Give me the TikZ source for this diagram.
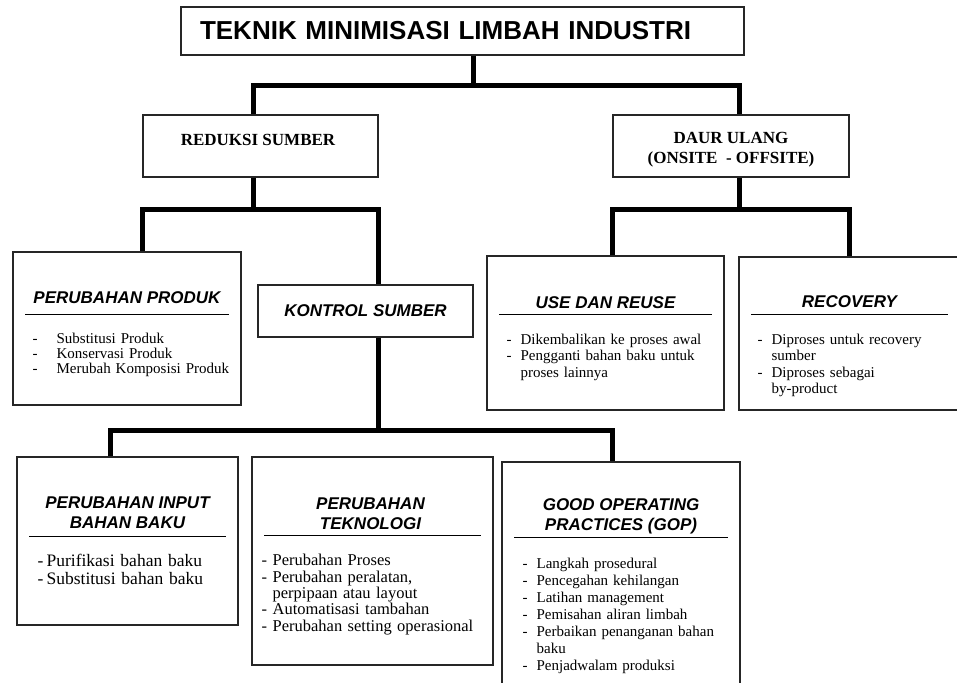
\documentclass[tikz,border=0pt]{standalone}
\usepackage{fontspec}
\setmainfont{Liberation Serif}
\setsansfont{Liberation Sans}
\usepackage{tikz}

% list with a plain dash in front of each entry
\newenvironment{dashlist}[1][14pt]{%
  \begin{list}{-}{\setlength{\leftmargin}{#1}\setlength{\labelwidth}{#1}%
    \setlength{\labelsep}{0pt}\setlength{\itemsep}{0pt}\setlength{\parsep}{0pt}%
    \setlength{\topsep}{0pt}\setlength{\partopsep}{0pt}\setlength{\itemindent}{0pt}%
    \renewcommand{\makelabel}[1]{##1\hfil}}}%
  {\end{list}}

\begin{document}
\begin{tikzpicture}[x=1pt, y=-1pt,
  box/.style={draw=black!85, line width=1.2pt, inner sep=0pt},
  conn/.style={line width=5pt, line join=miter},
  rule/.style={line width=1.6pt},
  head/.style={font=\sffamily\bfseries\itshape\fontsize{17}{20}\selectfont, align=center, inner sep=0pt},
  shead/.style={font=\bfseries\fontsize{17}{20}\selectfont, align=center, inner sep=0pt},
  items/.style={font=\fontsize{15}{16.5}\selectfont, text width=220pt, align=left, inner sep=0pt, anchor=north west},
]
  \useasboundingbox (0,0) rectangle (957,682);
  \clip (0,0) rectangle (957,682);
  \fill[white] (0,0) rectangle (957,682);

  % Top
  \node[box, minimum width=563pt, minimum height=48pt, text width=525pt, inner xsep=19pt, align=left,
        font=\sffamily\bfseries\fontsize{26}{30}\selectfont] (title) at (462.5,31) {TEKNIK MINIMISASI LIMBAH INDUSTRI};

  % Level 1
  \node[box, minimum width=235pt, minimum height=62pt] (reduksi) at (260.5,146) {};
  \node[shead] (reduksi-t) at ([xshift=-2.5,yshift=6]reduksi) {REDUKSI SUMBER};
  \node[box, minimum width=236pt, minimum height=62pt] (daur) at (731,146) {};
  \node[shead] (daur-t) at ([yshift=-4]daur) {DAUR ULANG\\(ONSITE\ \ - OFFSITE)};

  % Level 2
  \node[box, minimum width=228pt, minimum height=153pt] (produk) at (127,328.5) {};
  \node[head] (produk-t) at ([yshift=-46]produk.north) {PERUBAHAN PRODUK};
  \draw[rule] ([xshift=13,yshift=-63]produk.north west) -- ([xshift=-13,yshift=-63]produk.north east);
  \node[items, font=\fontsize{15}{15}\selectfont] (produk-l) at ([xshift=20,yshift=-77]produk.north west)
    {\begin{dashlist}[24pt]\item Substitusi Produk \item Konservasi Produk \item Merubah Komposisi Produk\end{dashlist}};

  \node[box, head, minimum width=215pt, minimum height=52pt] (kontrol) at (365.5,311) {KONTROL SUMBER};

  \node[box, minimum width=237pt, minimum height=154pt] (use) at (605.5,333) {};
  \node[head] (use-t) at ([yshift=-47]use.north) {USE DAN REUSE};
  \draw[rule] ([xshift=13,yshift=-59]use.north west) -- ([xshift=-13,yshift=-59]use.north east);
  \node[items] (use-l) at ([xshift=20,yshift=-72]use.north west)
    {\begin{dashlist}\item Dikembalikan ke proses awal \item Pengganti bahan baku untuk\newline proses lainnya\end{dashlist}};

  \node[box, minimum width=221pt, minimum height=153pt] (recovery) at (849.5,333.5) {};
  \node[head] (recovery-t) at ([yshift=-45]recovery.north) {RECOVERY};
  \draw[rule] ([xshift=13,yshift=-58]recovery.north west) -- ([xshift=-13,yshift=-58]recovery.north east);
  \node[items] (recovery-l) at ([xshift=19,yshift=-71]recovery.north west)
    {\begin{dashlist}\item Diproses untuk recovery\newline sumber \item Diproses sebagai\newline by-product\end{dashlist}};

  % Level 3
  \node[box, minimum width=221pt, minimum height=168pt] (input) at (127.5,541) {};
  \node[head] (input-t) at ([yshift=-56]input.north) {PERUBAHAN INPUT\\BAHAN BAKU};
  \draw[rule] ([xshift=13,yshift=-80]input.north west) -- ([xshift=-13,yshift=-80]input.north east);
  \node[items, font=\fontsize{17.5}{18}\selectfont] (input-l) at ([xshift=21,yshift=-92]input.north west)
    {\begin{dashlist}[9pt]\item Purifikasi bahan baku \item Substitusi bahan baku\end{dashlist}};

  \node[box, minimum width=241pt, minimum height=208pt] (teknologi) at (372.5,561) {};
  \node[head] (teknologi-t) at ([xshift=-2,yshift=-57]teknologi.north) {PERUBAHAN\\TEKNOLOGI};
  \draw[rule] ([xshift=13,yshift=-79]teknologi.north west) -- ([xshift=-13,yshift=-79]teknologi.north east);
  \node[items, font=\fontsize{16.5}{16.3}\selectfont] (teknologi-l) at ([xshift=10,yshift=-93]teknologi.north west)
    {\begin{dashlist}[11pt]\item Perubahan Proses \item Perubahan peralatan,\newline perpipaan atau layout
      \item Automatisasi tambahan \item Perubahan setting operasional\end{dashlist}};

  \node[box, minimum width=238pt, minimum height=238pt] (gop) at (621,581) {};
  \node[head] (gop-t) at ([yshift=-55]gop.north) {GOOD OPERATING\\PRACTICES (GOP)};
  \draw[rule] ([xshift=13,yshift=-76]gop.north west) -- ([xshift=-13,yshift=-76]gop.north east);
  \node[items, font=\fontsize{15}{17}\selectfont] (gop-l) at ([xshift=21,yshift=-90]gop.north west)
    {\begin{dashlist}\item Langkah prosedural \item Pencegahan kehilangan \item Latihan management
      \item Pemisahan aliran limbah \item Perbaikan penanganan bahan\newline baku \item Penjadwalam produksi\end{dashlist}};

  % Connectors
  \draw[conn] ([xshift=10.5]title.south) -- ++(0,30) coordinate (j1);
  \draw[conn] ([xshift=-7.5]reduksi.north) |- (j1) -| ([xshift=8]daur.north);
  \draw[conn] ([xshift=-7.5]reduksi.south) -- ++(0,32) coordinate (j2);
  \draw[conn] (produk.north -| reduksi.west) |- (j2) -| (kontrol.north -| reduksi.east);
  \draw[conn] (kontrol.south -| reduksi.east) -- ++(0,93) coordinate (j3);
  \draw[conn] ([xshift=-17.5]input.north) |- (j3) -| (gop.north -| daur.west);
  \draw[conn] ([xshift=8]daur.south) -- ++(0,32) coordinate (j4);
  \draw[conn] (use.north -| daur.west) |- (j4) -| (recovery.north -| daur.east);
\end{tikzpicture}
\end{document}
